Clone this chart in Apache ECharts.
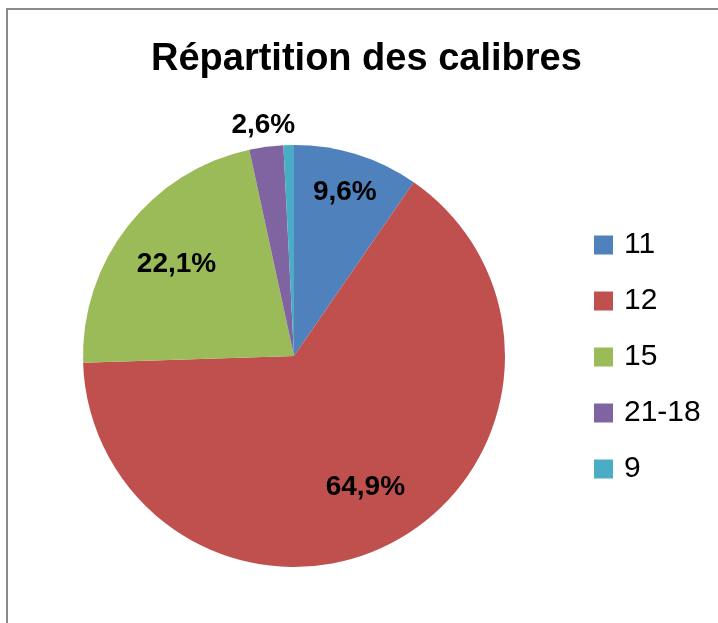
<!DOCTYPE html>
<html>
<head>
<meta charset="utf-8">
<script src="https://cdn.jsdelivr.net/npm/echarts@6/dist/echarts.min.js"></script>
<style>
  html, body { margin: 0; padding: 0; background: #fff; }
  #chart { width: 718px; height: 623px; }
</style>
</head>
<body>
<div id="chart"></div>
<script>
const categories = ['11', '12', '15', '21-18', '9']
const shares = [9.6, 64.9, 22.1, 2.6, 0.8]
// label placement groups: which slices get their label on which ring
const labelNear = [false, true, true, false, false]
const labelMid = [true, false, false, false, false]
const labelOut = [false, false, false, true, false]
const colors = ['#4F81BD', '#C0504D', '#9BBB59', '#8064A2', '#4BACC6']

const FONT = '"Liberation Sans", Arial, sans-serif'
const center = [294, 356]

function fmt(v) {
  return v.toFixed(1).replace('.', ',') + '%'
}

const labelStyle = {
  fontFamily: FONT,
  fontWeight: 'bold',
  fontSize: 28,
  color: '#000',
}

// invisible ring used only to place labels at a given radius
function labelRing(radius, flags) {
  return {
    type: 'pie',
    center,
    radius,
    startAngle: 90,
    clockwise: true,
    silent: true,
    avoidLabelOverlap: false,
    legendHoverLink: false,
    itemStyle: { color: 'rgba(0,0,0,0)', borderWidth: 0 },
    emphasis: { disabled: true },
    labelLine: { show: false },
    data: categories.map((name, i) => ({
      name,
      value: shares[i],
      label: {
        show: flags[i],
        position: 'inside',
        formatter: () => fmt(shares[i]),
        ...labelStyle,
      },
    })),
  }
}

const chart = echarts.init(document.getElementById('chart'))
chart.setOption({
  animation: false,
  color: colors,
  title: {
    text: 'Répartition des calibres',
    left: 151,
    top: 41,
    padding: 0,
    textStyle: { fontFamily: FONT, fontWeight: 'bold', fontSize: 38, color: '#000' },
  },
  legend: {
    orient: 'vertical',
    left: 594,
    top: 230,
    padding: 0,
    icon: 'rect',
    itemWidth: 19,
    itemHeight: 19,
    itemGap: 26,
    data: categories,
    textStyle: { fontFamily: FONT, fontSize: 30, lineHeight: 30, color: '#000', padding: [0, 0, 0, 6] },
  },
  graphic: [{
    type: 'rect',
    shape: { x: 7, y: 9, width: 760, height: 700 },
    style: { fill: 'none', stroke: '#8a8a8a', lineWidth: 2 },
    silent: true,
  }],
  series: [
    {
      type: 'pie',
      center,
      radius: 211,
      startAngle: 90,
      clockwise: true,
      avoidLabelOverlap: false,
      label: { show: false },
      labelLine: { show: false },
      itemStyle: { borderWidth: 0 },
      data: categories.map((name, i) => ({ name, value: shares[i] })),
    },
    labelRing([136, 156], labelNear),
    labelRing([158, 178], labelMid),
    labelRing([220, 240], labelOut),
  ],
})
</script>
</body>
</html>
